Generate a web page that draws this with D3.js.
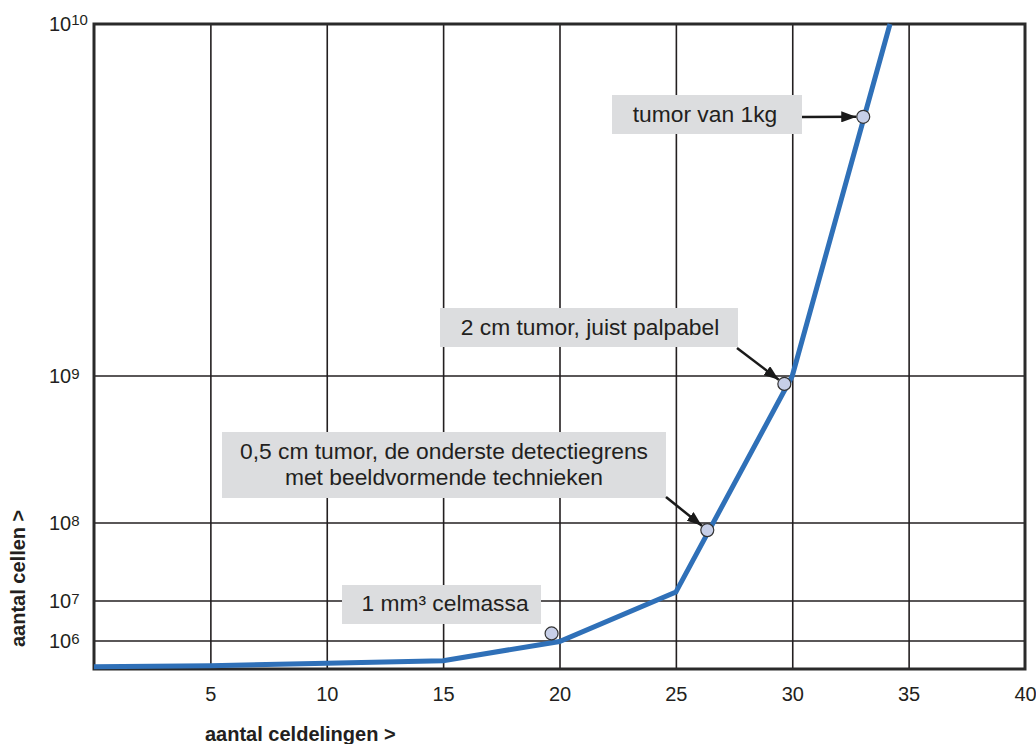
<!DOCTYPE html>
<html>
<head>
<meta charset="utf-8">
<script src="https://cdn.jsdelivr.net/npm/d3@7"></script>
<style>
  body { margin: 0; background: #fff; }
  text { font-family: "Liberation Sans", Arial, sans-serif; fill: #231f20; }
</style>
</head>
<body>
<svg id="chart" width="1036" height="744"></svg>
<script>
// Growth curve: number of cells against number of cell divisions
const divisions  = [0, 5, 10, 15, 20, 25, 30, 34.2];
const cellCounts = [3, 5, 17, 60, 8e5, 1.3e7, 1e9, 1e10];

// Milestones on the curve
const markerDivisions = [19.66, 26.35, 29.66, 33.05];
const markerCells     = [1.55e6, 8.1e7, 8.83e8, 5.45e9];
const markerLabels = [
  ["1 mm³ celmassa"],
  ["0,5 cm tumor, de onderste detectiegrens", "met beeldvormende technieken"],
  ["2 cm tumor, juist palpabel"],
  ["tumor van 1kg"]
];

// Axis ticks
const xTickValues = [5, 10, 15, 20, 25, 30, 35, 40];
const xGridValues = [5, 10, 15, 20, 25, 30, 35];
const yTickExponents = [6, 7, 8, 9, 10];

// ---- layout ----
const plot = { left: 94, right: 1025, top: 24, bottom: 669 };
const plotH = plot.bottom - plot.top;
// the vertical axis is stretched per decade: fraction of plot height at 10^0, 10^6 ... 10^10
const decadeExponents = [0, 6, 7, 8, 9, 10];
const decadeStops = [0, 0.0434, 0.1054, 0.2264, 0.4543, 1];

const svg = d3.select("#chart");

const x = d3.scaleLinear().domain([0, 40]).range([plot.left, plot.right]);
const yExp = d3.scaleLinear()
  .domain(decadeExponents)
  .range(decadeStops.map(f => plot.bottom - f * plotH));
const y = v => yExp(Math.log10(v));

// vertical grid lines
svg.append("g")
  .attr("transform", `translate(0,${plot.bottom})`)
  .call(d3.axisBottom(x).tickValues(xGridValues).tickSize(-plotH).tickFormat(""))
  .call(g => g.select(".domain").remove())
  .call(g => g.selectAll(".tick line").attr("stroke", "#231f20").attr("stroke-width", 1.6));

// horizontal grid lines
svg.append("g")
  .selectAll("line")
  .data(yTickExponents.filter(e => e < 10))
  .join("line")
  .attr("x1", plot.left).attr("x2", plot.right)
  .attr("y1", e => yExp(e)).attr("y2", e => yExp(e))
  .attr("stroke", "#231f20").attr("stroke-width", 1.6);

// x tick labels
svg.append("g")
  .attr("transform", `translate(0,${plot.bottom})`)
  .call(d3.axisBottom(x).tickValues(xTickValues).tickSize(0).tickPadding(18))
  .call(g => g.select(".domain").remove())
  .call(g => g.selectAll(".tick text")
    .attr("font-size", 20)
    .attr("font-family", "'Liberation Sans', Arial, sans-serif")
    .attr("fill", "#231f20"));

// y tick labels: 10 with a raised exponent
const yLabels = svg.append("g")
  .selectAll("text")
  .data(yTickExponents)
  .join("text")
  .attr("x", 49)
  .attr("y", e => yExp(e) + 6.7)
  .attr("font-size", 20);
yLabels.append("tspan").text("10");
yLabels.append("tspan")
  .attr("font-size", 15)
  .attr("dy", e => e === 10 ? -5.5 : -3.5)
  .text(e => e);

// frame
svg.append("rect")
  .attr("x", plot.left).attr("y", plot.top)
  .attr("width", plot.right - plot.left).attr("height", plotH)
  .attr("fill", "none").attr("stroke", "#2a2a2a").attr("stroke-width", 3);

// callout boxes
const callouts = [
  { box: [342, 585, 541, 624], cx: 445, baselines: [611], from: null },
  { box: [222, 432, 666, 498], cx: 444, baselines: [459, 485], from: [666, 497] },
  { box: [440, 308, 738, 347], cx: 590, baselines: [335], from: [737, 348] },
  { box: [612, 95, 802, 134], cx: 705, baselines: [121.7], from: [802, 117] }
];

const cg = svg.append("g");
callouts.forEach((c, i) => {
  cg.append("rect")
    .attr("x", c.box[0]).attr("y", c.box[1])
    .attr("width", c.box[2] - c.box[0]).attr("height", c.box[3] - c.box[1])
    .attr("fill", "#dcdddf");
  markerLabels[i].forEach((line, j) => {
    cg.append("text")
      .attr("x", c.cx).attr("y", c.baselines[j])
      .attr("text-anchor", "middle")
      .attr("font-size", 22.8)
      .text(line);
  });
});

// growth curve
const lineGen = d3.line()
  .x((d, i) => x(divisions[i]))
  .y((d, i) => y(cellCounts[i]));
svg.append("path")
  .datum(cellCounts)
  .attr("d", lineGen)
  .attr("fill", "none")
  .attr("stroke", "#2f70b8")
  .attr("stroke-width", 5)
  .attr("stroke-linejoin", "miter");

// arrowhead
svg.append("defs").append("marker")
  .attr("id", "arrowhead")
  .attr("viewBox", "0 0 15 11")
  .attr("refX", 15).attr("refY", 5.5)
  .attr("markerWidth", 15).attr("markerHeight", 11)
  .attr("markerUnits", "userSpaceOnUse")
  .attr("orient", "auto")
  .append("path").attr("d", "M0,0 L15,5.5 L0,11 Z").attr("fill", "#1a1a1a");

const r = 6.5;
callouts.forEach((c, i) => {
  if (!c.from) return;
  const mx = x(markerDivisions[i]), my = y(markerCells[i]);
  const dx = mx - c.from[0], dy = my - c.from[1];
  const len = Math.hypot(dx, dy);
  svg.append("line")
    .attr("x1", c.from[0]).attr("y1", c.from[1])
    .attr("x2", mx - dx / len * (r + 0.5)).attr("y2", my - dy / len * (r + 0.5))
    .attr("stroke", "#1a1a1a").attr("stroke-width", 2.5)
    .attr("marker-end", "url(#arrowhead)");
});

// milestone markers
svg.append("g")
  .selectAll("circle")
  .data(markerCells)
  .join("circle")
  .attr("cx", (d, i) => x(markerDivisions[i]))
  .attr("cy", d => y(d))
  .attr("r", r)
  .attr("fill", "#c7cfe8")
  .attr("stroke", "#333")
  .attr("stroke-width", 1.2);

// axis titles
svg.append("text")
  .attr("x", 205).attr("y", 741)
  .attr("font-size", 20).attr("font-weight", "bold")
  .text("aantal celdelingen >");

svg.append("text")
  .attr("transform", "translate(25,647) rotate(-90)")
  .attr("font-size", 20).attr("font-weight", "bold")
  .text("aantal cellen >");
</script>
</body>
</html>
